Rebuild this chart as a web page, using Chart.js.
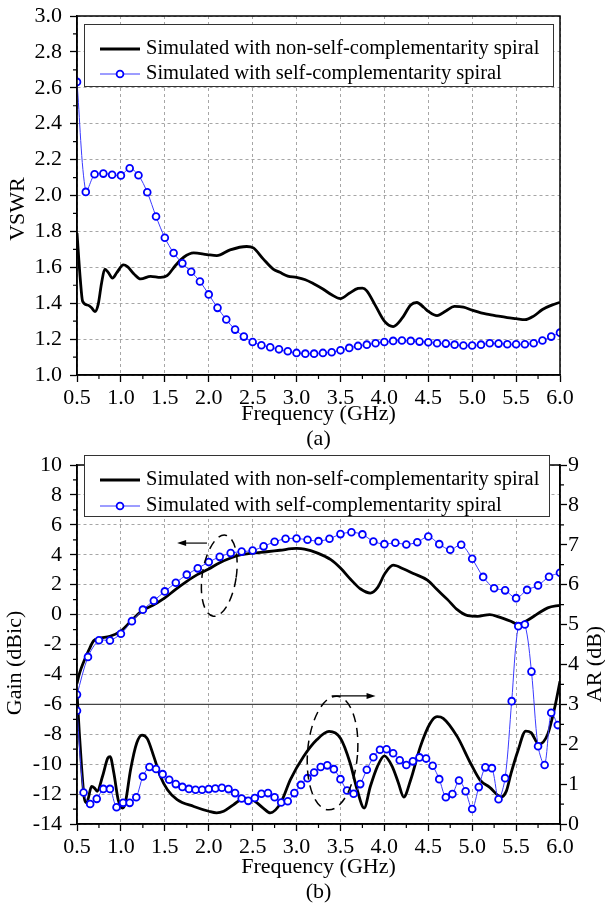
<!DOCTYPE html>
<html>
<head>
<meta charset="utf-8">
<title>VSWR, Gain and AR</title>
<script src="https://cdn.jsdelivr.net/npm/chart.js@4.4.1/dist/chart.umd.min.js"></script>
<style>
  html, body { margin:0; padding:0; background:#ffffff; }
  body { width:605px; height:908px; position:relative; overflow:hidden; }
  canvas { position:absolute; left:0; }
  #ca { top:0; }
  #cb { top:445px; }
</style>
</head>
<body>
<canvas id="ca" width="605" height="455"></canvas>
<canvas id="cb" width="605" height="463"></canvas>
<script>
// ---------------- DATA ----------------
const seriesNames = ['Simulated with non-self-complementarity spiral', 'Simulated with self-complementarity spiral'];
const xTickLabels = ['0.5','1.0','1.5','2.0','2.5','3.0','3.5','4.0','4.5','5.0','5.5','6.0'];

// (a) VSWR
const vswrBlackFreq = [0.5,0.538,0.564,0.62,0.666,0.704,0.742,0.779,0.817,0.855,0.904,0.953,1.028,1.074,1.149,1.225,1.338,1.451,1.526,1.621,1.715,1.828,1.979,2.092,2.243,2.432,2.508,2.62,2.734,2.81,2.9,3.0,3.1,3.2,3.3,3.4,3.5,3.6,3.7,3.75,3.8,3.9,4.0,4.1,4.2,4.3,4.37,4.45,4.5,4.6,4.7,4.8,4.9,5.0,5.1,5.2,5.3,5.4,5.5,5.6,5.7,5.8,5.9,6.0];
const vswrBlack = [1.79,1.53,1.41,1.39,1.375,1.353,1.395,1.51,1.59,1.572,1.54,1.57,1.613,1.604,1.563,1.535,1.55,1.544,1.553,1.61,1.656,1.68,1.671,1.665,1.697,1.716,1.708,1.647,1.59,1.572,1.551,1.544,1.531,1.507,1.479,1.447,1.426,1.455,1.482,1.484,1.469,1.385,1.300,1.270,1.315,1.390,1.404,1.376,1.355,1.331,1.357,1.382,1.378,1.361,1.346,1.337,1.328,1.320,1.314,1.308,1.328,1.365,1.388,1.405];
const vswrBlueFreq = [0.5,0.6,0.7,0.8,0.9,1.0,1.1,1.2,1.3,1.4,1.5,1.6,1.7,1.8,1.9,2.0,2.1,2.2,2.3,2.4,2.5,2.6,2.7,2.8,2.9,3.0,3.1,3.2,3.3,3.4,3.5,3.6,3.7,3.8,3.9,4.0,4.1,4.2,4.3,4.4,4.5,4.6,4.7,4.8,4.9,5.0,5.1,5.2,5.3,5.4,5.5,5.6,5.7,5.8,5.9,6.0];
const vswrBlue = [2.633,2.02,2.118,2.122,2.116,2.112,2.152,2.113,2.018,1.883,1.765,1.68,1.622,1.575,1.521,1.449,1.374,1.309,1.253,1.214,1.184,1.166,1.155,1.143,1.132,1.123,1.119,1.119,1.123,1.127,1.138,1.151,1.162,1.169,1.177,1.184,1.19,1.192,1.19,1.186,1.182,1.177,1.175,1.169,1.164,1.164,1.169,1.177,1.175,1.171,1.171,1.171,1.177,1.192,1.214,1.236];

// (b) Gain (left axis)
const gainBlackFreq = [0.5,0.53,0.58,0.64,0.69,0.75,0.875,1.0,1.08,1.19,1.25,1.3,1.41,1.5,1.62,1.75,1.87,2.0,2.12,2.25,2.37,2.5,2.66,2.81,3.0,3.09,3.24,3.39,3.5,3.62,3.73,3.84,3.92,4.01,4.1,4.22,4.33,4.49,4.6,4.72,4.83,4.95,5.06,5.2,5.3,5.44,5.52,5.63,5.75,5.86,6.0];
const gainBlack = [-4.6,-3.9,-3.1,-2.3,-1.75,-1.6,-1.45,-1.1,-0.65,0.0,0.3,0.44,0.78,1.11,1.67,2.22,2.67,3.05,3.45,3.78,4.0,4.11,4.2,4.3,4.42,4.38,4.11,3.67,3.11,2.33,1.71,1.44,1.78,2.78,3.3,3.05,2.75,2.3,1.67,1.0,0.33,-0.07,-0.12,0.0,-0.15,-0.45,-0.65,-0.38,0.07,0.45,0.62];
const gainBlueFreq = [0.5,0.625,0.75,0.875,1.0,1.125,1.25,1.375,1.5,1.625,1.75,1.875,2.0,2.125,2.25,2.375,2.5,2.625,2.75,2.875,3.0,3.125,3.25,3.375,3.5,3.625,3.75,3.875,4.0,4.125,4.25,4.375,4.5,4.625,4.75,4.875,5.0,5.125,5.25,5.375,5.5,5.625,5.75,5.875,6.0];
const gainBlue = [-5.35,-2.83,-1.72,-1.73,-1.28,-0.44,0.33,0.93,1.55,2.13,2.67,3.09,3.51,3.86,4.11,4.21,4.28,4.56,4.87,5.07,5.09,5.0,4.91,5.07,5.38,5.5,5.36,4.89,4.71,4.8,4.69,4.84,5.22,4.71,4.33,4.67,3.73,2.52,1.76,1.62,1.1,1.65,1.95,2.53,2.8];

// (b) AR (right axis)
const arBlackFreq = [0.5,0.526,0.553,0.583,0.61,0.666,0.70,0.73,0.79,0.85,0.877,0.92,0.97,1.02,1.05,1.11,1.18,1.24,1.3,1.375,1.45,1.53,1.64,1.83,2.0,2.09,2.17,2.28,2.41,2.5,2.62,2.7,2.82,2.93,3.08,3.23,3.37,3.5,3.61,3.69,3.77,3.84,3.92,4.0,4.09,4.16,4.22,4.3,4.41,4.52,4.6,4.67,4.83,4.98,5.09,5.2,5.33,5.39,5.44,5.52,5.61,5.67,5.76,5.86,5.94,6.0];
const arBlack = [3.3,2.3,1.4,0.65,0.53,0.94,0.9,0.82,1.19,1.65,1.69,1.27,0.6,0.4,0.53,1.36,2.03,2.23,2.14,1.69,1.19,0.86,0.61,0.44,0.32,0.28,0.32,0.48,0.65,0.61,0.4,0.28,0.53,1.11,1.69,2.11,2.32,2.15,1.53,0.86,0.4,0.94,1.44,1.71,1.44,1.03,0.675,1.11,1.94,2.52,2.69,2.65,2.19,1.53,1.1,0.92,0.68,0.83,1.25,1.83,2.33,2.29,2.0,2.25,2.92,3.58];
const arBlueFreq = [0.5,0.575,0.65,0.725,0.8,0.875,0.95,1.025,1.1,1.175,1.25,1.325,1.4,1.475,1.55,1.625,1.7,1.775,1.85,1.925,2.0,2.075,2.15,2.225,2.3,2.375,2.45,2.525,2.6,2.675,2.75,2.825,2.9,2.975,3.05,3.125,3.2,3.275,3.35,3.425,3.5,3.575,3.65,3.725,3.8,3.875,3.95,4.025,4.1,4.175,4.25,4.325,4.4,4.475,4.55,4.625,4.7,4.775,4.85,4.925,5.0,5.075,5.15,5.225,5.3,5.375,5.45,5.525,5.6,5.675,5.75,5.825,5.9,5.975];
const arBlue = [2.84,0.79,0.5,0.63,0.88,0.88,0.42,0.53,0.53,0.67,1.19,1.43,1.38,1.25,1.11,1.0,0.93,0.88,0.86,0.86,0.875,0.89,0.91,0.875,0.775,0.64,0.58,0.65,0.76,0.775,0.67,0.54,0.57,0.775,0.98,1.15,1.29,1.43,1.47,1.375,1.125,0.84,0.76,1.0,1.36,1.675,1.86,1.875,1.775,1.6,1.48,1.57,1.67,1.64,1.46,1.125,0.67,0.75,1.09,0.82,0.375,0.925,1.42,1.4,0.62,1.15,3.08,4.96,5.0,3.82,1.95,1.48,2.79,2.48];

// ---------------- STYLE ----------------
const FONT_FAMILY = '"Liberation Serif", "Times New Roman", Times, serif';
Chart.defaults.font.family = FONT_FAMILY;
Chart.defaults.font.size = 22;
Chart.defaults.color = '#000';
Chart.defaults.animation = false;

const BLUE_LINE = '#3a3aff';
const BLUE_MARK = '#0000ff';
const GRID_COLOR = '#a6a6a6';
const GRID_DASH = [3, 3];
const LEGEND_FONT = '20.5px ' + FONT_FAMILY;
const TITLE_FONT = '22px ' + FONT_FAMILY;

const toPts = (xs, ys) => xs.map((x, i) => ({ x: x, y: ys[i] }));
function zeroPad(s) { s.paddingTop = 0; s.paddingBottom = 0; s.paddingLeft = 0; s.paddingRight = 0; }

function blackSet(label, xs, ys, axis) {
  return { label, data: toPts(xs, ys), yAxisID: axis, borderColor: '#000', borderWidth: 2.8,
           pointRadius: 0, cubicInterpolationMode: 'monotone', order: 2 };
}
function blueSet(label, xs, ys, axis) {
  return { label, data: toPts(xs, ys), yAxisID: axis, borderColor: BLUE_LINE, borderWidth: 1,
           pointRadius: 3.4, pointBorderWidth: 1.8, pointBorderColor: BLUE_MARK,
           pointBackgroundColor: '#ffffff', tension: 0.3, order: 1 };
}

function xAxis(h, caption) {
  return {
    type: 'linear', position: 'bottom', min: 0.5, max: 6.0,
    afterFit(s) { s.height = h; zeroPad(s); },
    afterBuildTicks(s) { s.ticks = xTickLabels.map(t => ({ value: parseFloat(t) })); },
    ticks: { padding: 3, autoSkip: false, maxRotation: 0, font: { size: 22 },
             callback: (v) => xTickLabels.find(t => Math.abs(parseFloat(t) - v) < 1e-6) || '' },
    grid: { color: GRID_COLOR, lineWidth: 1, tickLength: 7, tickColor: '#000', tickWidth: 1.3, tickBorderDash: [] },
    border: { display: true, color: '#000', width: 1.5, dash: GRID_DASH },
    title: { display: true, text: ['Frequency (GHz)', caption], font: { size: 22, lineHeight: 1.1 },
             padding: { top: 0, bottom: 4 }, color: '#000' }
  };
}

function range(a, b, step) { const r = []; for (let v = a; v <= b + 1e-9; v += step) r.push(+v.toFixed(4)); return r; }
const xMinor = range(0.75, 5.75, 0.5);

function drawFrame(ctx, ca) {
  ctx.save();
  ctx.strokeStyle = '#000'; ctx.lineWidth = 1.5;
  ctx.strokeRect(ca.left, ca.top, ca.right - ca.left, ca.bottom - ca.top);
  ctx.restore();
}
function drawMinor(ctx, scale, ca, vals, side, len) {
  ctx.save(); ctx.strokeStyle = '#000'; ctx.lineWidth = 1.2; ctx.beginPath();
  vals.forEach(v => {
    const p = scale.getPixelForValue(v);
    if (side === 'bottom') { ctx.moveTo(p, ca.bottom); ctx.lineTo(p, ca.bottom + len); }
    if (side === 'left') { ctx.moveTo(ca.left, p); ctx.lineTo(ca.left - len, p); }
    if (side === 'right') { ctx.moveTo(ca.right, p); ctx.lineTo(ca.right + len, p); }
  });
  ctx.stroke(); ctx.restore();
}
function drawVTitle(ctx, text, x, y) {
  ctx.save(); ctx.translate(x, y); ctx.rotate(-Math.PI / 2);
  ctx.fillStyle = '#000'; ctx.font = TITLE_FONT;
  ctx.textAlign = 'center'; ctx.textBaseline = 'middle';
  ctx.fillText(text, 0, 0); ctx.restore();
}
function drawLegend(ctx, chart, box, y1, y2) {
  const ds = chart.data.datasets;
  const blackLabel = ds.find(d => d.borderColor === '#000').label;
  const blueLabel = ds.find(d => d.borderColor === BLUE_LINE).label;
  ctx.save();
  ctx.fillStyle = '#fff'; ctx.fillRect(box.x, box.y, box.w, box.h);
  ctx.strokeStyle = '#333'; ctx.lineWidth = 1; ctx.strokeRect(box.x + 0.5, box.y + 0.5, box.w, box.h);
  ctx.strokeStyle = '#000'; ctx.lineWidth = 2.8;
  ctx.beginPath(); ctx.moveTo(100, y1); ctx.lineTo(140, y1); ctx.stroke();
  ctx.strokeStyle = BLUE_LINE; ctx.lineWidth = 1;
  ctx.beginPath(); ctx.moveTo(100, y2); ctx.lineTo(140, y2); ctx.stroke();
  ctx.beginPath(); ctx.arc(120, y2, 3.4, 0, Math.PI * 2);
  ctx.fillStyle = '#fff'; ctx.fill(); ctx.strokeStyle = BLUE_MARK; ctx.lineWidth = 1.8; ctx.stroke();
  ctx.fillStyle = '#000'; ctx.font = LEGEND_FONT; ctx.textBaseline = 'middle'; ctx.textAlign = 'left';
  ctx.fillText(blackLabel, 146, y1);
  ctx.fillText(blueLabel, 146, y2);
  ctx.restore();
}
function arrow(ctx, x1, y, x2) {
  const dir = Math.sign(x2 - x1);
  ctx.save(); ctx.strokeStyle = '#000'; ctx.fillStyle = '#000'; ctx.lineWidth = 1.2;
  ctx.beginPath(); ctx.moveTo(x1, y); ctx.lineTo(x2 - dir * 6, y); ctx.stroke();
  ctx.beginPath(); ctx.moveTo(x2, y); ctx.lineTo(x2 - dir * 9, y - 3); ctx.lineTo(x2 - dir * 9, y + 3); ctx.closePath(); ctx.fill();
  ctx.restore();
}
function dashedEllipse(ctx, cx, cy, rx, ry, rot) {
  ctx.save(); ctx.strokeStyle = '#000'; ctx.lineWidth = 1.5; ctx.setLineDash([9, 6]);
  ctx.beginPath(); ctx.ellipse(cx, cy, rx, ry, rot, 0, Math.PI * 2); ctx.stroke(); ctx.restore();
}

// ---------------- CHART (a) ----------------
const decorA = {
  id: 'decorA',
  afterDraw(chart) {
    const { ctx, chartArea: ca, scales } = chart;
    drawFrame(ctx, ca);
    drawMinor(ctx, scales.x, ca, xMinor, 'bottom', 4);
    drawMinor(ctx, scales.y, ca, range(1.1, 2.9, 0.2), 'left', 4);
    drawVTitle(ctx, 'VSWR', 18, 209);
    drawLegend(ctx, chart, { x: 84, y: 24, w: 469, h: 62 }, 49, 74);
  }
};

new Chart(document.getElementById('ca'), {
  type: 'line',
  data: { datasets: [
    blackSet(seriesNames[0], vswrBlackFreq, vswrBlack, 'y'),
    blueSet(seriesNames[1], vswrBlueFreq, vswrBlue, 'y')
  ] },
  options: {
    responsive: false, events: [],
    layout: { padding: { top: 16, right: 0, left: 0, bottom: 0 } },
    plugins: { legend: { display: false }, tooltip: { enabled: false } },
    scales: {
      x: xAxis(80, '(a)'),
      y: {
        type: 'linear', position: 'left', min: 1.0, max: 3.0,
        afterFit(s) { s.width = 77; zeroPad(s); },
        ticks: { stepSize: 0.2, padding: 8, font: { size: 22 }, callback: v => Number(v).toFixed(1) },
        grid: { color: GRID_COLOR, lineWidth: 1, tickLength: 7, tickColor: '#000', tickWidth: 1.3, tickBorderDash: [] },
        border: { display: true, color: '#000', width: 1.5, dash: GRID_DASH }
      },
      yr: {
        type: 'linear', position: 'right', min: 1.0, max: 3.0,
        afterFit(s) { s.width = 45; zeroPad(s); },
        ticks: { display: false }, grid: { display: false, drawOnChartArea: false }, border: { display: false }
      }
    }
  },
  plugins: [decorA]
});

// ---------------- CHART (b) ----------------
const decorB = {
  id: 'decorB',
  beforeDatasetsDraw(chart) {
    const { ctx, chartArea: ca, scales } = chart;
    const y = scales.y.getPixelForValue(-6);
    ctx.save(); ctx.strokeStyle = '#444'; ctx.lineWidth = 1.2;
    ctx.beginPath(); ctx.moveTo(ca.left, y); ctx.lineTo(ca.right, y); ctx.stroke(); ctx.restore();
  },
  afterDraw(chart) {
    const { ctx, chartArea: ca, scales } = chart;
    const sx = scales.x, sy = scales.y, sy1 = scales.y1;
    drawFrame(ctx, ca);
    drawMinor(ctx, sx, ca, xMinor, 'bottom', 4);
    drawMinor(ctx, sy, ca, range(-13, 9, 2), 'left', 4);
    drawMinor(ctx, sy1, ca, range(0.5, 8.5, 1), 'right', 4);
    drawVTitle(ctx, 'Gain (dBic)', 15, 218);
    drawVTitle(ctx, 'AR (dB)', 595, 219);
    // annotations: gain ellipse + left arrow, AR ellipse + right arrow
    dashedEllipse(ctx, sx.getPixelForValue(2.12), sy.getPixelForValue(2.6), 17, 41, 0.15);
    arrow(ctx, sx.getPixelForValue(1.98), sy.getPixelForValue(4.78), sx.getPixelForValue(1.64));
    dashedEllipse(ctx, sx.getPixelForValue(3.41), sy1.getPixelForValue(1.78), 25, 57, 0.08);
    arrow(ctx, sx.getPixelForValue(3.4), sy1.getPixelForValue(3.21), sx.getPixelForValue(3.9));
    drawLegend(ctx, chart, { x: 84, y: 10, w: 465, h: 61 }, 35, 61);
  }
};

new Chart(document.getElementById('cb'), {
  type: 'line',
  data: { datasets: [
    blackSet(seriesNames[0], gainBlackFreq, gainBlack, 'y'),
    blueSet(seriesNames[1], gainBlueFreq, gainBlue, 'y'),
    blackSet(seriesNames[0] + ' (AR)', arBlackFreq, arBlack, 'y1'),
    blueSet(seriesNames[1] + ' (AR)', arBlueFreq, arBlue, 'y1')
  ] },
  options: {
    responsive: false, events: [],
    layout: { padding: { top: 20, right: 0, left: 0, bottom: 0 } },
    plugins: { legend: { display: false }, tooltip: { enabled: false } },
    scales: {
      x: xAxis(84, '(b)'),
      y: {
        type: 'linear', position: 'left', min: -14, max: 10,
        afterFit(s) { s.width = 77; zeroPad(s); },
        ticks: { stepSize: 2, padding: 8, font: { size: 22 } },
        grid: { color: GRID_COLOR, lineWidth: 1, tickLength: 7, tickColor: '#000', tickWidth: 1.3, tickBorderDash: [] },
        border: { display: true, color: '#000', width: 1.5, dash: GRID_DASH }
      },
      y1: {
        type: 'linear', position: 'right', min: 0, max: 9,
        afterFit(s) { s.width = 45; zeroPad(s); },
        ticks: { stepSize: 1, padding: 1, font: { size: 22 } },
        grid: { drawOnChartArea: false, tickLength: 7, tickColor: '#000', tickWidth: 1.3, tickBorderDash: [] },
        border: { display: true, color: '#000', width: 1.5 }
      }
    }
  },
  plugins: [decorB]
});
</script>
</body>
</html>
